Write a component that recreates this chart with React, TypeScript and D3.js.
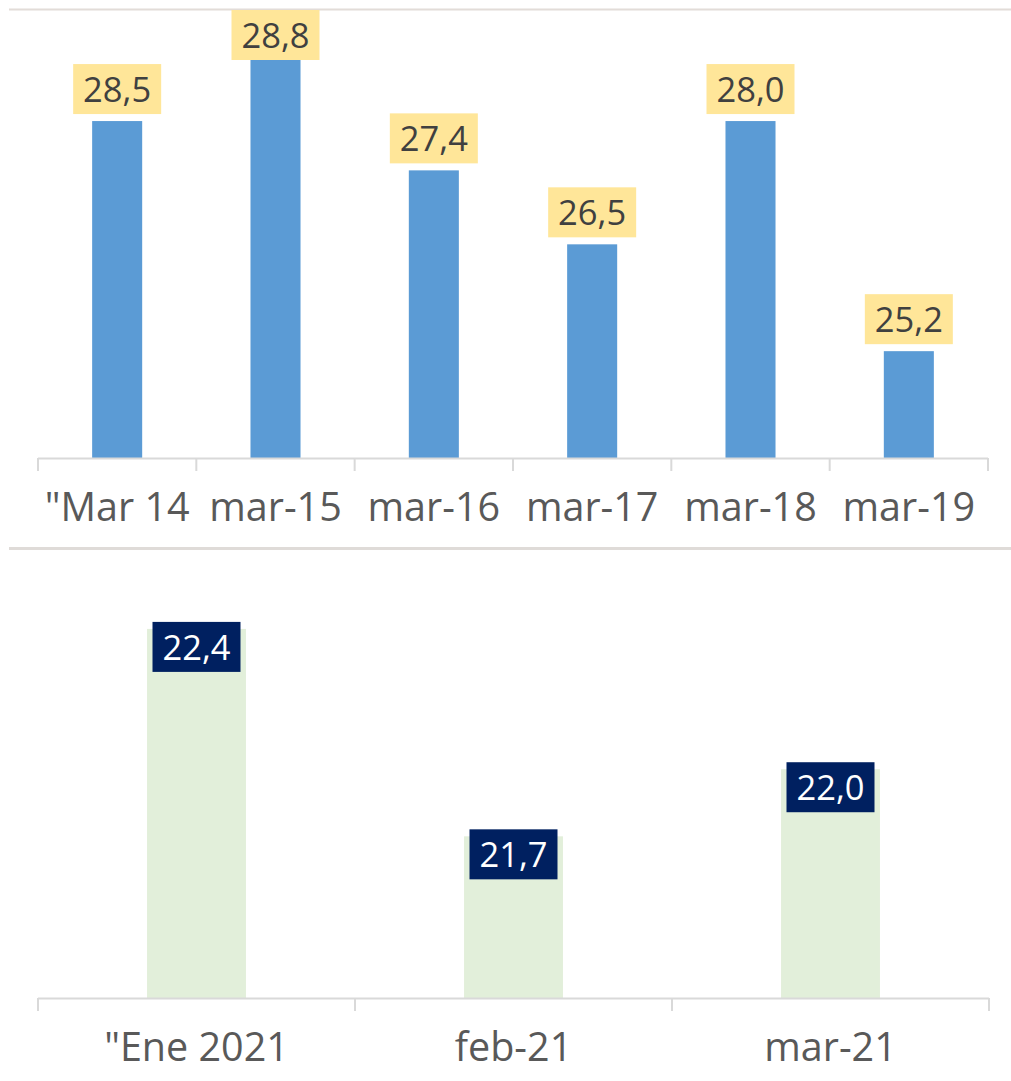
import React from "react";
import * as d3 from "d3";

// top chart
const topCategories = ['"Mar 14', "mar-15", "mar-16", "mar-17", "mar-18", "mar-19"];
const topValues = [28.0, 28.8, 27.4, 26.5, 28.0, 25.2];
const topLabels = ["28,5", "28,8", "27,4", "26,5", "28,0", "25,2"];

// bottom chart
const bottomCategories = ['"Ene 2021', "feb-21", "mar-21"];
const bottomValues = [22.42, 21.74, 21.96];
const bottomLabels = ["22,4", "21,7", "22,0"];

const W = 1011, H = 1081;
const font = "'Open Sans', 'Noto Sans', sans-serif";
const axisColor = "#d9d9d9";

function BarPanel(props: {
  cats: string[]; values: number[]; labels: string[];
  x0: number; x1: number; base: number; yDomain: [number, number]; yTop: number;
  padding: number; barColor: string; boxColor: string; textColor: string;
  inside: boolean; plotTop: number;
}) {
  const { cats, values, labels, x0, x1, base, yDomain, yTop, padding } = props;
  const x = d3.scaleBand<string>().domain(cats).range([x0, x1])
    .paddingInner(padding).paddingOuter(padding / 2);
  const y = d3.scaleLinear().domain(yDomain).range([base, yTop]);
  const step = x.step();
  const edges = d3.range(cats.length + 1).map((i) => x0 + i * step);
  const boxW = 88, boxH = 50;

  return (
    <g>
      {values.map((v, i) => (
        <rect key={"b" + i} x={x(cats[i])} y={y(v)} width={x.bandwidth()}
          height={base - y(v)} fill={props.barColor} />
      ))}
      <line x1={x0} x2={x1} y1={base + 0.5} y2={base + 0.5} stroke={axisColor} strokeWidth={2} />
      {edges.map((e, i) => (
        <line key={"t" + i} x1={e} x2={e} y1={base} y2={base + 13} stroke={axisColor} strokeWidth={2} />
      ))}
      {cats.map((c, i) => (
        <text key={"c" + i} x={(x(c) as number) + x.bandwidth() / 2} y={base + 63}
          textAnchor="middle" fontFamily={font} fontSize={39.5} fill="#595959">{c}</text>
      ))}
      {values.map((v, i) => {
        const cx = (x(cats[i]) as number) + x.bandwidth() / 2;
        let top = props.inside ? y(v) - 7 : y(v) - 7 - boxH;
        top = Math.max(top, props.plotTop);
        return (
          <g key={"l" + i}>
            <rect x={cx - boxW / 2} y={top} width={boxW} height={boxH} fill={props.boxColor} />
            <text x={cx} y={top + 38} textAnchor="middle" fontFamily={font} fontSize={34.5}
              fill={props.textColor}>{labels[i]}</text>
          </g>
        );
      })}
    </g>
  );
}

export default function App() {
  return (
    <svg width={W} height={H} style={{ position: "absolute", left: 0, top: 0, background: "#fff" }}>
      <line x1={9} x2={W} y1={9.5} y2={9.5} stroke="#e2dcd8" strokeWidth={2} />
      <line x1={9} x2={W} y1={548.5} y2={548.5} stroke="#dfdbd8" strokeWidth={3} />
      <BarPanel cats={topCategories} values={topValues} labels={topLabels}
        x0={38} x1={988} base={458} yDomain={[23.9, 29.4]} yTop={6} padding={0.684}
        barColor="#5b9bd5" boxColor="#ffe699" textColor="#404040" inside={false} plotTop={10} />
      <BarPanel cats={bottomCategories} values={bottomValues} labels={bottomLabels}
        x0={38} x1={989} base={998} yDomain={[21.21, 22.6]} yTop={574} padding={0.688}
        barColor="#e2efda" boxColor="#002060" textColor="#ffffff" inside={true} plotTop={560} />
    </svg>
  );
}
